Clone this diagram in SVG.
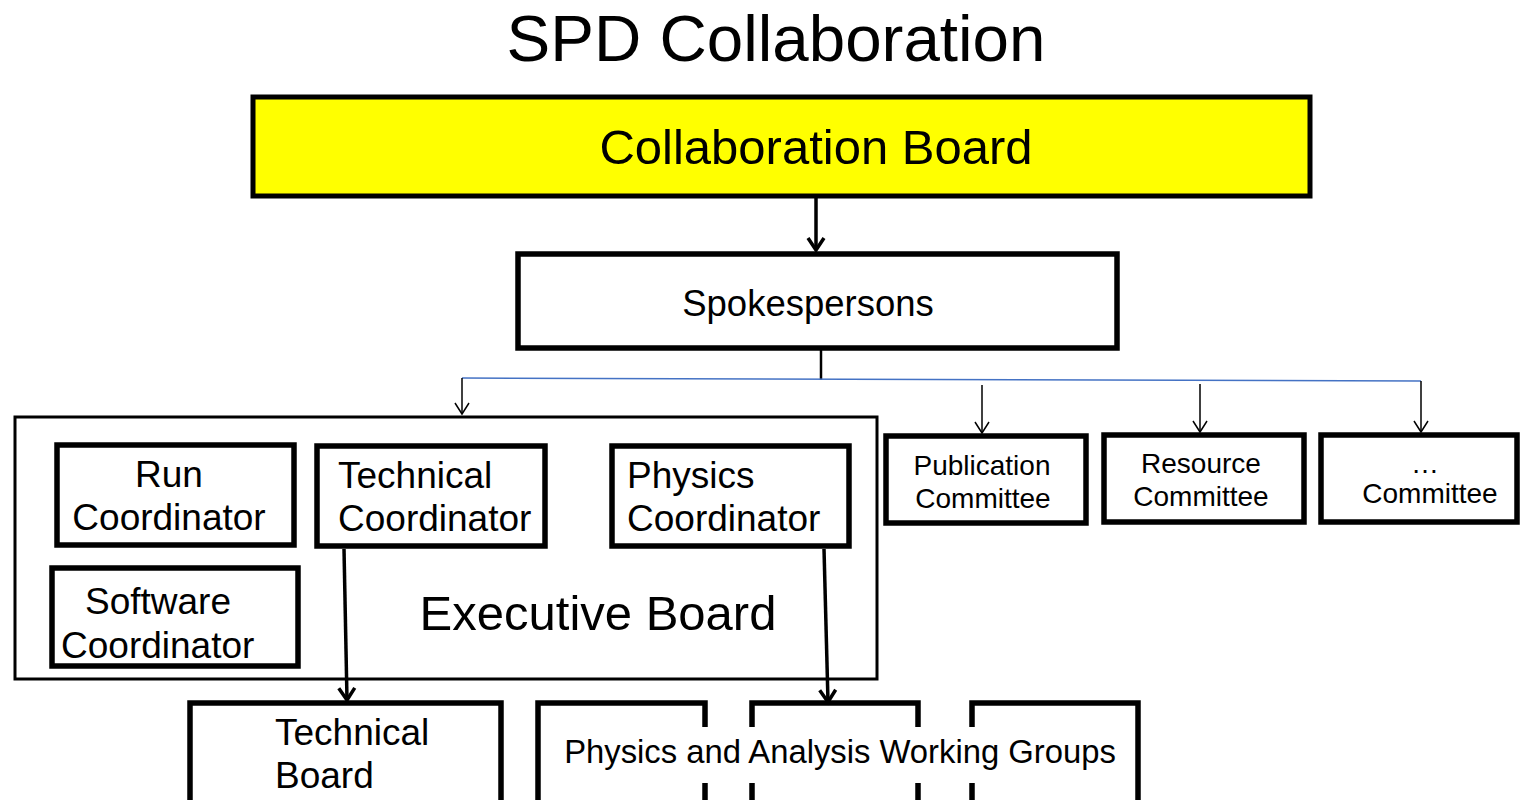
<svg xmlns="http://www.w3.org/2000/svg" width="1520" height="800" viewBox="0 0 1520 800">
<style>
text{font-family:"Liberation Sans",Arial,sans-serif;fill:#000}
.box{fill:#fff;stroke:#000;stroke-width:5.5}
.c{text-anchor:middle}
.thin{stroke:#000;stroke-width:1.5;fill:none}
.thick{stroke:#000;stroke-width:3.5;fill:none}
.f37{font-size:37px}
</style>
<defs>
<marker id="ahThin" markerUnits="userSpaceOnUse" markerWidth="20" markerHeight="20" viewBox="-12 -10 14 20" refX="0" refY="0" orient="auto">
<path d="M-11,-7 L0,0 L-11,7" fill="none" stroke="#000" stroke-width="1.5"/>
</marker>
<marker id="ahThick" markerUnits="userSpaceOnUse" markerWidth="24" markerHeight="24" viewBox="-14 -12 16 24" refX="0" refY="0" orient="auto">
<path d="M-12,-8 L0,0 L-12,8" fill="none" stroke="#000" stroke-width="3.5"/>
</marker>
</defs>
<rect width="1520" height="800" fill="#fff"/>
<text x="776" y="61" class="c" font-size="65.5">SPD Collaboration</text>

<g id="collab-board">
<rect x="253" y="97" width="1057" height="99" fill="#ffff00" stroke="#000" stroke-width="5"/>
<text x="816" y="164" class="c" font-size="49">Collaboration Board</text>
</g>
<g id="spokespersons">
<rect class="box" x="518" y="254" width="599" height="94" stroke-width="5"/>
<text x="808" y="316" class="c" font-size="36.5">Spokespersons</text>
</g>
<g id="executive-board">
<rect x="15" y="417" width="862" height="262" fill="#fff" stroke="#000" stroke-width="3"/>
<text x="598" y="630" class="c" font-size="49">Executive Board</text>
</g>
<g id="run-coordinator">
<rect class="box" x="57" y="445" width="237" height="100"/>
<text x="169" y="487" class="c f37">Run</text>
<text x="169" y="530" class="c f37">Coordinator</text>
</g>
<g id="technical-coordinator">
<rect class="box" x="317" y="446" width="228" height="100"/>
<text x="338" y="488" class="f37">Technical</text>
<text x="338" y="531" class="f37">Coordinator</text>
</g>
<g id="physics-coordinator">
<rect class="box" x="612" y="446" width="237" height="100"/>
<text x="627" y="488" class="f37">Physics</text>
<text x="627" y="531" class="f37">Coordinator</text>
</g>
<g id="software-coordinator">
<rect class="box" x="52" y="568" width="246" height="98"/>
<text x="85" y="614" class="f37">Software</text>
<text x="61" y="658" class="f37">Coordinator</text>
</g>
<g id="publication-committee">
<rect class="box" x="886" y="436" width="200" height="87"/>
<text x="982" y="475" class="c" font-size="28">Publication</text>
<text x="983" y="508" class="c" font-size="28">Committee</text>
</g>
<g id="resource-committee">
<rect class="box" x="1104" y="435" width="200" height="87"/>
<text x="1201" y="473" class="c" font-size="28">Resource</text>
<text x="1201" y="506" class="c" font-size="28">Committee</text>
</g>
<g id="other-committee">
<rect class="box" x="1321" y="435" width="196" height="87"/>
<text x="1425" y="473" class="c" font-size="28">…</text>
<text x="1430" y="503" class="c" font-size="28">Committee</text>
</g>
<g id="technical-board">
<rect class="box" x="190" y="703" width="311" height="130"/>
<text x="275" y="745" class="f37">Technical</text>
<text x="275" y="788" class="f37">Board</text>
</g>
<g id="physics-analysis-groups">
<rect class="box" x="538" y="703" width="167" height="130"/>
<rect class="box" x="752" y="703" width="166" height="130"/>
<rect class="box" x="972" y="703" width="166" height="130"/>
<rect x="558" y="727" width="562" height="56" fill="#fff"/>
<text x="840" y="763" class="c" font-size="32.8">Physics and Analysis Working Groups</text>
</g>

<g id="connectors">
<line x1="816" y1="198" x2="816" y2="250" class="thick" stroke-width="4" marker-end="url(#ahThick)"/>
<line x1="821" y1="349" x2="821" y2="380" stroke="#000" stroke-width="2.5"/>
<line x1="462" y1="378" x2="1421" y2="381" stroke="#4472C4" stroke-width="1.5"/>
<line x1="462" y1="378" x2="462" y2="414" class="thin" marker-end="url(#ahThin)"/>
<line x1="982" y1="385" x2="982" y2="433" class="thin" marker-end="url(#ahThin)"/>
<line x1="1200" y1="384" x2="1200" y2="432" class="thin" marker-end="url(#ahThin)"/>
<line x1="1421" y1="381" x2="1421" y2="432" class="thin" marker-end="url(#ahThin)"/>
<line x1="344" y1="549" x2="347" y2="700" class="thick" marker-end="url(#ahThick)"/>
<line x1="824" y1="549" x2="828" y2="702" class="thick" marker-end="url(#ahThick)"/>
</g>
</svg>
